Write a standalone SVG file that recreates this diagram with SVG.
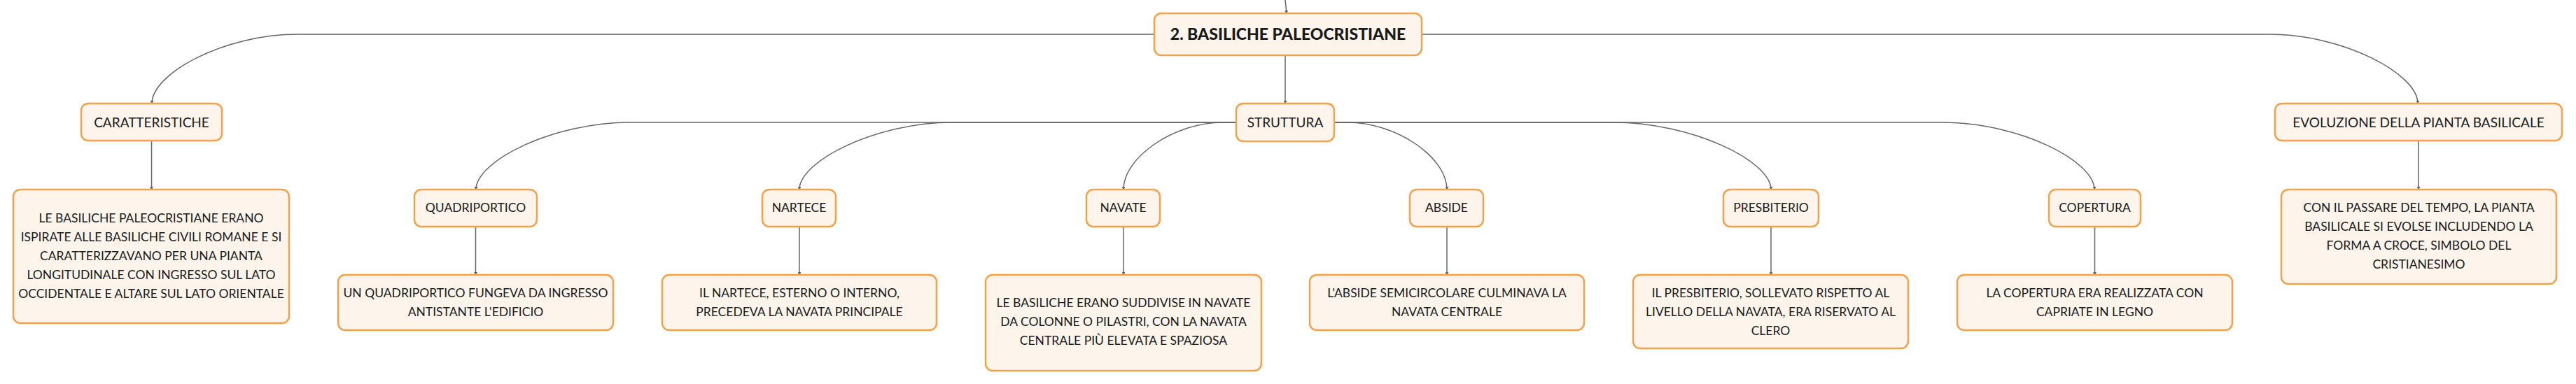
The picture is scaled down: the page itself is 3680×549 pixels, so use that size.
<svg xmlns="http://www.w3.org/2000/svg" width="3680" height="549" viewBox="0 0 3680 549">
<style>
.box{fill:#fdf4ec;stroke:#f3a24c;stroke-width:2.5}
.t{font-family:Lato,"Open Sans","DejaVu Sans",sans-serif;font-size:17.5px;fill:#1a1a1a;text-anchor:middle}
.t1{font-size:19px}
.title{font-weight:900;font-size:23px}
.c{fill:none;stroke:#666;stroke-width:1.5;marker-end:url(#arr)}
</style>
<defs>
<marker id="arr" markerUnits="userSpaceOnUse" markerWidth="5" markerHeight="5" refX="4" refY="2.5" orient="auto">
<path d="M0,0 L5,2.5 L0,5 z" fill="#666"/>
</marker>
</defs>
<rect width="3680" height="549" fill="#ffffff"/>
<g id="connectors">
<path class="c" d="M1836 0 L1838 19"/>
<path class="c" d="M1649 49 H425 C320 49 217 105 217 148"/>
<path class="c" d="M2031 49 H3243 C3346 49 3454 105 3454 148"/>
<path class="c" d="M1836 79 V148"/>
<path class="c" d="M216.5 201 V271"/>
<path class="c" d="M3455 201 V271"/>
<path class="c" d="M1766 175 H900 C790 175 680 230 680 271"/>
<path class="c" d="M1766 175 H1360 C1252 175 1142 230 1142 271"/>
<path class="c" d="M1766 175 H1747 C1677 175 1605 225 1605 271"/>
<path class="c" d="M1906 175 H1925 C1995 175 2067 225 2067 271"/>
<path class="c" d="M1906 175 H2305 C2417 175 2530 230 2530 271"/>
<path class="c" d="M1906 175 H2775 C2884 175 2992 230 2992 271"/>
<path class="c" d="M679.5 324 V393"/>
<path class="c" d="M1142 324 V393"/>
<path class="c" d="M1605 324 V393"/>
<path class="c" d="M2067 324 V393"/>
<path class="c" d="M2530 324 V393"/>
<path class="c" d="M2992.5 324 V393"/>
</g>
<g id="main">
<rect class="box" x="1649" y="19" width="382" height="60" rx="10"/>
<text class="t title" x="1840" y="57">2. BASILICHE PALEOCRISTIANE</text>
</g>
<g id="caratteristiche">
<rect class="box" x="116" y="148" width="201" height="53" rx="10"/>
<text class="t t1" x="216.5" y="182">CARATTERISTICHE</text>
</g>
<g id="struttura">
<rect class="box" x="1766" y="148" width="140" height="54" rx="10"/>
<text class="t t1" x="1836" y="182">STRUTTURA</text>
</g>
<g id="evoluzione">
<rect class="box" x="3250" y="148" width="410" height="53" rx="10"/>
<text class="t t1" x="3455" y="182">EVOLUZIONE DELLA PIANTA BASILICALE</text>
</g>
<g id="caratteristiche-testo">
<rect class="box" x="19" y="271" width="394" height="191" rx="10"/>
<text class="t" x="216" y="318">LE BASILICHE PALEOCRISTIANE ERANO</text>
<text class="t" x="216" y="345">ISPIRATE ALLE BASILICHE CIVILI ROMANE E SI</text>
<text class="t" x="216" y="372">CARATTERIZZAVANO PER UNA PIANTA</text>
<text class="t" x="216" y="399">LONGITUDINALE CON INGRESSO SUL LATO</text>
<text class="t" x="216" y="426">OCCIDENTALE E ALTARE SUL LATO ORIENTALE</text>
</g>
<g id="evoluzione-testo">
<rect class="box" x="3259" y="271" width="393" height="135" rx="10"/>
<text class="t" x="3455.5" y="303">CON IL PASSARE DEL TEMPO, LA PIANTA</text>
<text class="t" x="3455.5" y="330">BASILICALE SI EVOLSE INCLUDENDO LA</text>
<text class="t" x="3455.5" y="357">FORMA A CROCE, SIMBOLO DEL</text>
<text class="t" x="3455.5" y="384">CRISTIANESIMO</text>
</g>
<g id="quadriportico">
<rect class="box" x="592" y="271" width="175" height="53" rx="10"/>
<text class="t" x="679.5" y="303">QUADRIPORTICO</text>
</g>
<g id="quadriportico-testo">
<rect class="box" x="483" y="393" width="393" height="79" rx="10"/>
<text class="t" x="679.5" y="425">UN QUADRIPORTICO FUNGEVA DA INGRESSO</text>
<text class="t" x="679.5" y="452">ANTISTANTE L'EDIFICIO</text>
</g>
<g id="nartece">
<rect class="box" x="1089" y="271" width="105" height="53" rx="10"/>
<text class="t" x="1141.5" y="303">NARTECE</text>
</g>
<g id="nartece-testo">
<rect class="box" x="946" y="393" width="392" height="79" rx="10"/>
<text class="t" x="1142" y="425">IL NARTECE, ESTERNO O INTERNO,</text>
<text class="t" x="1142" y="452">PRECEDEVA LA NAVATA PRINCIPALE</text>
</g>
<g id="navate">
<rect class="box" x="1552" y="271" width="105" height="53" rx="10"/>
<text class="t" x="1604.5" y="303">NAVATE</text>
</g>
<g id="navate-testo">
<rect class="box" x="1408" y="393" width="394" height="137" rx="10"/>
<text class="t" x="1605" y="439">LE BASILICHE ERANO SUDDIVISE IN NAVATE</text>
<text class="t" x="1605" y="466">DA COLONNE O PILASTRI, CON LA NAVATA</text>
<text class="t" x="1605" y="493">CENTRALE PIÙ ELEVATA E SPAZIOSA</text>
</g>
<g id="abside">
<rect class="box" x="2014" y="271" width="105" height="53" rx="10"/>
<text class="t" x="2066.5" y="303">ABSIDE</text>
</g>
<g id="abside-testo">
<rect class="box" x="1871" y="393" width="392" height="79" rx="10"/>
<text class="t" x="2067" y="425">L'ABSIDE SEMICIRCOLARE CULMINAVA LA</text>
<text class="t" x="2067" y="452">NAVATA CENTRALE</text>
</g>
<g id="presbiterio">
<rect class="box" x="2462" y="271" width="136" height="53" rx="10"/>
<text class="t" x="2530" y="303">PRESBITERIO</text>
</g>
<g id="presbiterio-testo">
<rect class="box" x="2333" y="393" width="393" height="105" rx="10"/>
<text class="t" x="2529.5" y="425">IL PRESBITERIO, SOLLEVATO RISPETTO AL</text>
<text class="t" x="2529.5" y="452">LIVELLO DELLA NAVATA, ERA RISERVATO AL</text>
<text class="t" x="2529.5" y="479">CLERO</text>
</g>
<g id="copertura">
<rect class="box" x="2927" y="271" width="131" height="53" rx="10"/>
<text class="t" x="2992.5" y="303">COPERTURA</text>
</g>
<g id="copertura-testo">
<rect class="box" x="2796" y="393" width="393" height="79" rx="10"/>
<text class="t" x="2992.5" y="425">LA COPERTURA ERA REALIZZATA CON</text>
<text class="t" x="2992.5" y="452">CAPRIATE IN LEGNO</text>
</g>
</svg>
